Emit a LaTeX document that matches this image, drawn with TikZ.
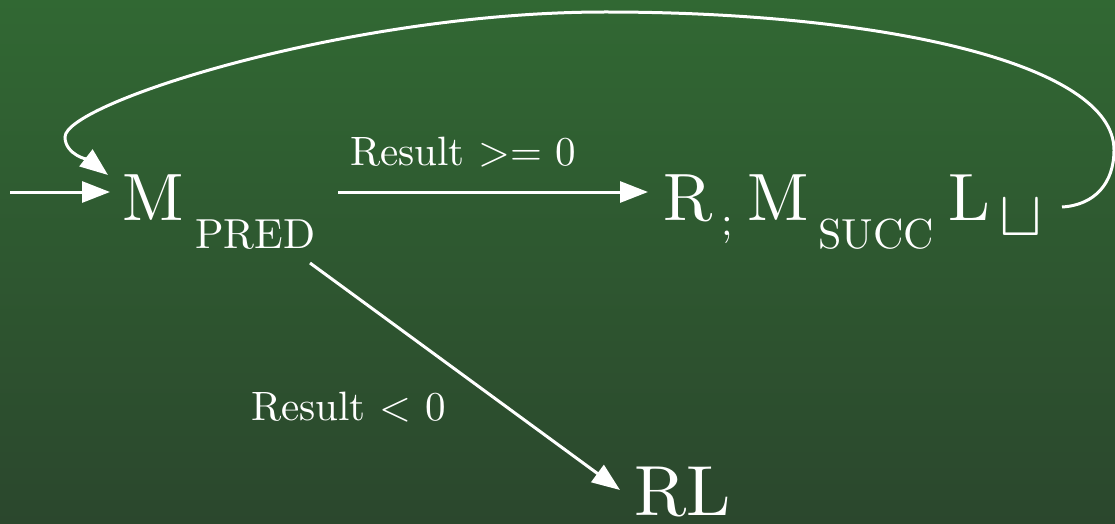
\RequirePackage{fix-cm}
\documentclass[tikz,border=0pt]{standalone}
\usepackage{fontspec}
\setmainfont{lmroman10-regular}[Extension=.otf]
\usetikzlibrary{arrows.meta,calc}
\definecolor{bgtop}{RGB}{49,104,51}
\definecolor{bgbot}{RGB}{43,71,45}
\begin{document}
\begin{tikzpicture}[x=1pt,y=1pt,
  big/.style={text=white, inner sep=0pt, anchor=base west, font=\fontsize{67}{67}\selectfont},
  subtxt/.style={text=white, inner sep=0pt, anchor=base west, font=\fontsize{42}{42}\selectfont},
  lbl/.style={text=white, inner sep=0pt, anchor=base west, font=\fontsize{41}{41}\selectfont},
  arr/.style={draw=white, line width=3pt, -{Triangle[length=28pt,width=21pt]}},
  loopline/.style={draw=white, line width=3pt, -{Triangle[length=28pt,width=21pt]}}]
\useasboundingbox (0,0) rectangle (1115,523);
\fill[top color=bgtop, bottom color=bgbot] (0,0) rectangle (1115,523);

% nodes
\node[big] (m1) at (122,303) {M};
\node[subtxt] (pred) at (195,275) {PRED};
\node[big] (r1) at (663,303) {R};
\node[subtxt] (semi) at (721,288) {;};
\node[big] (m2) at (747,303) {M};
\node[subtxt] (succ) at (818,275) {SUCC};
\node[big] (l1) at (948,303) {L};
\node[text=white, inner sep=0pt, anchor=base west, font=\fontsize{64}{64}\selectfont] (cup) at (999,288) {$\sqcup$};
\node[big, font=\fontsize{71}{71}\selectfont] (rl) at (634,8) {RL};

% labels
\node[lbl] (lge) at (350,358) {Result >= 0};
\node[lbl] (llt) at (251,103) {Result < 0};

% connectors
\coordinate (in) at (10,331);
\draw[arr] (in) -- ($(m1.base west)+(-12,28)$);
\draw[arr] ($(m1.base west)+(216,28)$) -- ($(r1.base west)+(-15,28)$);
\draw[arr] ($(pred.base west)+(115,-15)$) -- ($(rl.base west)+(-14,25)$);
\draw[loopline] (1062,316)
  .. controls (1095,318) and (1114,340) .. (1114,373)
  .. controls (1114,460) and (880,511) .. (605,511)
  .. controls (350,511) and (65,420) .. (65,386)
  .. controls (65,368) and (90,362) .. ($(m1.base west)+(-14,45)$);
\end{tikzpicture}
\end{document}
